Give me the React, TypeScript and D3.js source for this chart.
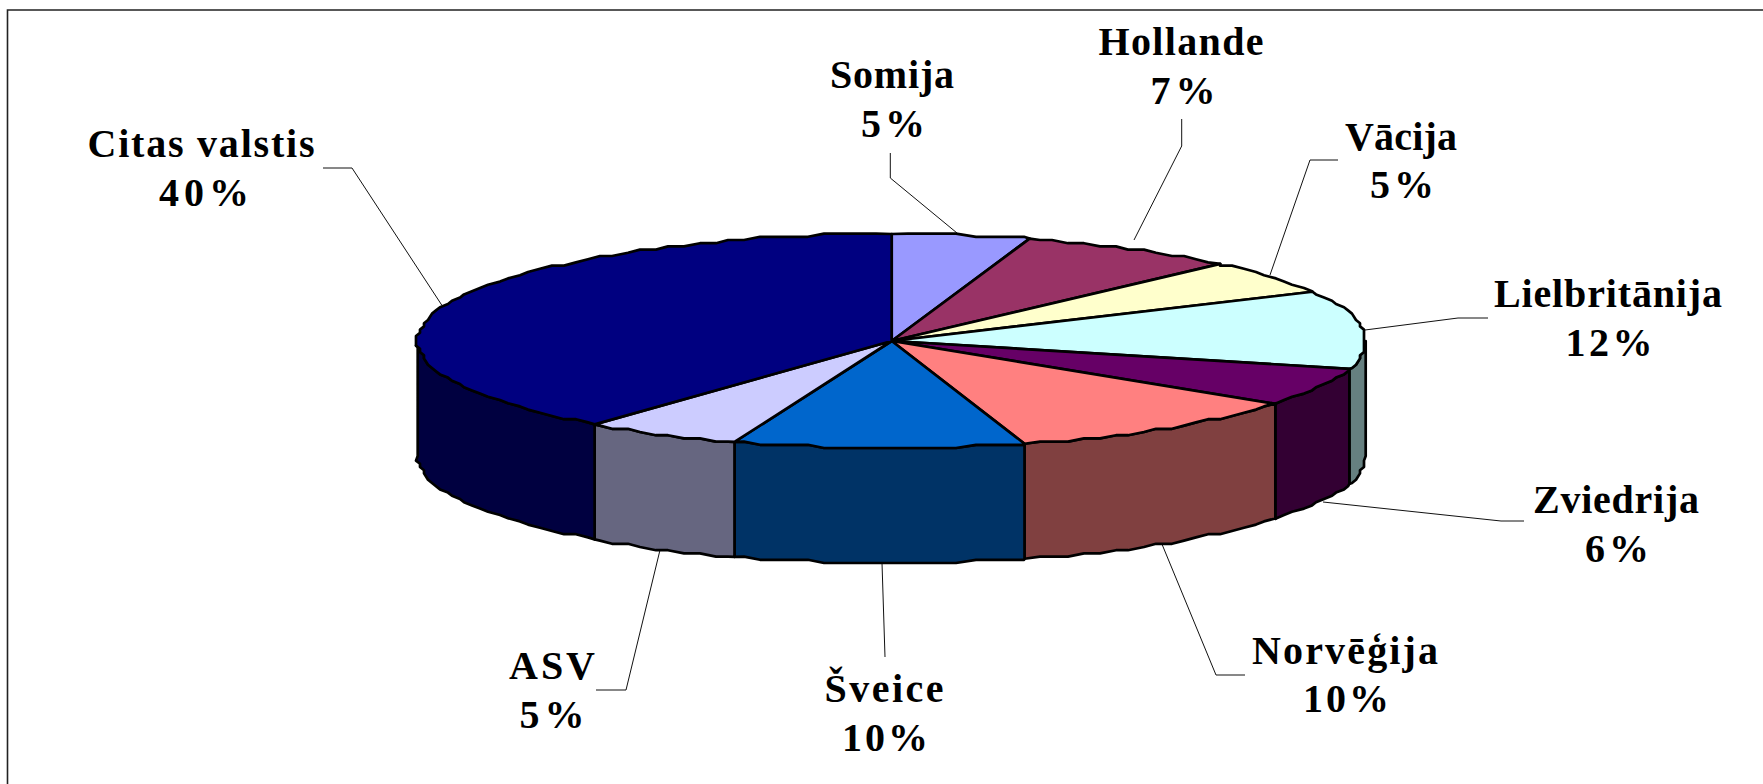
import React from "react";
import * as d3 from "d3";

// ---- data ----
const countries = ["Somija", "Hollande", "Vācija", "Lielbritānija", "Zviedrija", "Norvēģija", "Šveice", "ASV", "Citas valstis"];
const shares = [4.7, 7.49, 5.2, 11.8, 5.8, 10.49, 9.9, 5.4, 39.22];
// percentages as printed on the labels
const percentLabels = [5, 7, 5, 12, 6, 10, 10, 5, 40];
const topColors = ["#9999FF", "#993366", "#FFFFCC", "#CCFFFF", "#660066", "#FF8080", "#0066CC", "#CCCCFF", "#000080"];

// ---- layout ----
const W = 1763, H = 784;
const CX = 891.7, CY = 341, RX = 474, RY = 107, DEPTH = 115;
const GRID_X = 4, GRID_Y = 3.2, STEP = (2 * Math.PI) / 180;
const FONT = "'Liberation Serif', 'Times New Roman', serif";
const FONT_SIZE = 40;
const EDGE = 2.7;

// label placement: centre x, two baselines, two text widths
const labelX = [892, 1181, 1401, 1608, 1616, 1345, 884, 552, 201];
const pctX = [893, 1183, 1402, 1609, 1617, 1346, 885, 552, 204];
const labelY1 = [88, 55, 150, 307, 513, 664, 702, 679, 157];
const labelY2 = [137, 104, 198, 356, 562, 712, 751, 728, 206];
const nameW = [124, 165, 112, 228, 166, 186, 119, 86, 227];
const pctW = [64, 65, 64, 87, 64, 86, 86, 65, 90];
const leaders: [number, number][][] = [
  [[890.3, 153], [890.3, 178], [957, 233]],
  [[1181.7, 119], [1181.7, 146], [1134, 240]],
  [[1338, 160], [1310, 160], [1270, 275]],
  [[1488, 318], [1458, 318], [1365, 330]],
  [[1524, 521], [1501, 521], [1323, 502]],
  [[1245, 675], [1216, 675], [1161.5, 543]],
  [[885, 657], [882, 563]],
  [[596, 690], [626, 690], [660, 550]],
  [[323, 168], [352, 168], [441.7, 305]],
];

const pie = d3.pie<number>().sort(null).startAngle(0).endAngle(2 * Math.PI);
const arcs = pie(shares);
const poly = d3.line<[number, number]>().curve(d3.curveLinear);

const xAt = d3.scaleLinear().domain([-1, 1]).range([CX - RX, CX + RX]);
const yAt = d3.scaleLinear().domain([-1, 1]).range([CY - RY, CY + RY]);
const snap = (v: number, g: number) => Math.round(v / g) * g;

function rim(a0: number, a1: number, dy = 0): [number, number][] {
  const angles = [a0];
  for (let k = Math.ceil(a0 / STEP + 1e-6); k * STEP < a1 - 1e-6; k++) angles.push(k * STEP);
  angles.push(a1);
  return angles.map((a, i) => {
    const x = xAt(Math.sin(a));
    const y = yAt(-Math.cos(a));
    const end = i === 0 || i === angles.length - 1;
    return [end ? x : snap(x, GRID_X), (end ? y : snap(y, GRID_Y)) + dy] as [number, number];
  });
}

function halve(col: string) {
  const c = d3.rgb(col);
  return d3.rgb(c.r / 2, c.g / 2, c.b / 2).formatHex();
}

export default function App() {
  const walls = arcs
    .map((d, i) => ({ i, a0: Math.max(d.startAngle, Math.PI / 2), a1: Math.min(d.endAngle, (3 * Math.PI) / 2) }))
    .filter((w) => w.a1 > w.a0);
  return (
    <svg width={W} height={H} style={{ position: "absolute", left: 0, top: 0, background: "#fff" }}>
      <path d={`M7.5,${H}V10H${W}`} fill="none" stroke="#222" strokeWidth={1.6} />
      {leaders.map((pts, i) => (
        <path key={i} d={poly(pts) ?? ""} fill="none" stroke="#111" strokeWidth={1} />
      ))}
      {walls.map((w) => {
        const top = rim(w.a0, w.a1);
        const bottom = rim(w.a0, w.a1, DEPTH).reverse();
        return (
          <path
            key={w.i}
            d={(poly([...top, ...bottom]) ?? "") + "Z"}
            fill={halve(topColors[w.i])}
            stroke="#000"
            strokeWidth={EDGE}
            strokeLinejoin="round"
          />
        );
      })}
      {arcs.map((d, i) => (
        <path
          key={i}
          d={(poly([[CX, CY], ...rim(d.startAngle, d.endAngle)]) ?? "") + "Z"}
          fill={topColors[i]}
          stroke="#000"
          strokeWidth={EDGE}
          strokeLinejoin="round"
        />
      ))}
      {countries.map((c, i) => (
        <g key={c} fontFamily={FONT} fontSize={FONT_SIZE} fontWeight="bold" textAnchor="middle" fill="#000">
          <text x={labelX[i]} y={labelY1[i]} textLength={nameW[i]} lengthAdjust="spacing">{c}</text>
          <text x={pctX[i]} y={labelY2[i]} textLength={pctW[i]} lengthAdjust="spacing">{`${percentLabels[i]}%`}</text>
        </g>
      ))}
    </svg>
  );
}
